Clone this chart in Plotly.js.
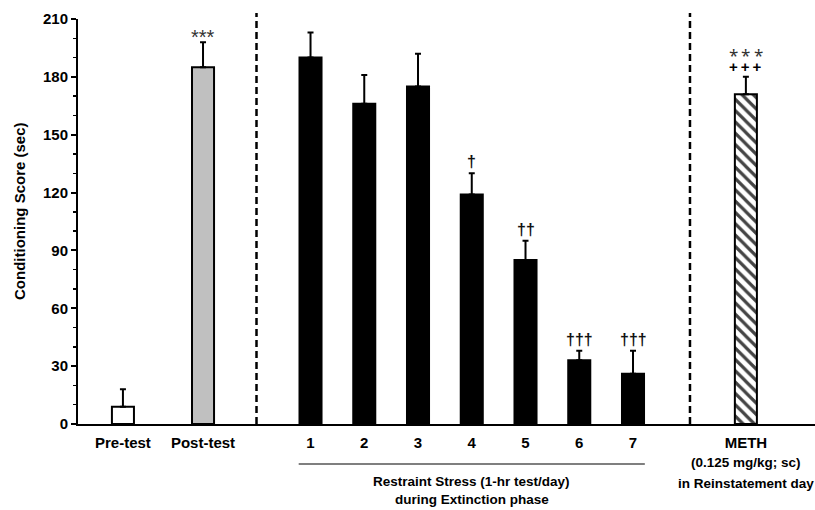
<!DOCTYPE html>
<html>
<head>
<meta charset="utf-8">
<script src="https://cdn.plot.ly/plotly-3.0.1.min.js"></script>
<style>html,body{margin:0;padding:0;background:#fff;}#chart{width:815px;height:510px;}</style>
</head>
<body>
<div id="chart"></div>
<script>
// ---- data ----
const categories = ['Pre-test', 'Post-test', '1', '2', '3', '4', '5', '6', '7', 'METH'];
const means = [9, 185, 190, 166, 175, 119, 85, 33, 26, 171];
const semUp = [9, 13, 13, 15, 17, 11, 10, 5, 12, 9];
const marksTop = ['', '***', '', '', '', '\u2020', '\u2020\u2020', '\u2020\u2020\u2020', '\u2020\u2020\u2020', '\u204E\u2009\u204E\u2009\u204E'];
const marksSecond = ['', '', '', '', '', '', '', '', '', '+\u2009+\u2009+'];
const yTicks = [0, 30, 60, 90, 120, 150, 180, 210];

// ---- layout helpers (positions / styles) ----
const xPos = [-3.49, -2.0, 0, 1, 2, 3, 4, 5, 6, 8.1];
const fills = ['#ffffff', '#c0c0c0', '#000000', '#000000', '#000000', '#000000', '#000000', '#000000', '#000000', '#ffffff'];
const patterns = ['', '', '', '', '', '', '', '', '', '\\'];
const FONT = 'Liberation Sans, Arial, sans-serif';

const trace = {
  type: 'bar',
  x: xPos,
  y: means,
  width: 0.41,
  marker: {
    color: fills,
    line: {color: '#000', width: 2},
    pattern: {shape: patterns, fgcolor: '#000', bgcolor: '#fff', fgopacity: 1, size: 8, solidity: 0.4, fillmode: 'overlay'}
  },
  error_y: {type: 'data', symmetric: false, array: semUp, arrayminus: semUp.map(() => 0), color: '#000', thickness: 2, width: 3},
  hoverinfo: 'none'
};

const annotations = [];
categories.forEach((c, i) => {
  const top = means[i] + semUp[i];
  if (marksSecond[i]) {
    annotations.push({x: xPos[i], y: top, xref: 'x', yref: 'y', text: marksSecond[i], showarrow: false,
      yanchor: 'bottom', yshift: 0, font: {family: FONT, size: 15, color: '#000', weight: 'bold'}});
    annotations.push({x: xPos[i], y: top, xref: 'x', yref: 'y', text: marksTop[i], showarrow: false,
      yanchor: 'bottom', yshift: 17.5, font: {family: FONT, size: 17, color: '#333'}});
  } else if (marksTop[i]) {
    const isStar = marksTop[i].indexOf('*') >= 0;
    annotations.push({x: xPos[i], y: top, xref: 'x', yref: 'y', text: marksTop[i], showarrow: false,
      yanchor: 'bottom', yshift: isStar ? -8 : 1,
      font: {family: FONT, size: isStar ? 20 : 16, color: isStar ? '#333' : '#111', weight: isStar ? 'normal' : 'bold'}});
  }
});

// group labels
annotations.push({xref: 'x', yref: 'paper', x: 3, y: -0.141, text: 'Restraint Stress (1-hr test/day)', showarrow: false,
  yanchor: 'middle', font: {family: FONT, size: 13.5, color: '#000', weight: 'bold'}});
annotations.push({xref: 'x', yref: 'paper', x: 3, y: -0.187, text: 'during Extinction phase', showarrow: false,
  yanchor: 'middle', font: {family: FONT, size: 13.5, color: '#000', weight: 'bold'}});
annotations.push({xref: 'x', yref: 'paper', x: 8.1, y: -0.096, text: '(0.125 mg/kg; sc)', showarrow: false,
  yanchor: 'middle', font: {family: FONT, size: 13.5, color: '#000', weight: 'bold'}});
annotations.push({xref: 'x', yref: 'paper', x: 8.1, y: -0.148, text: 'in Reinstatement day', showarrow: false,
  yanchor: 'middle', font: {family: FONT, size: 13.5, color: '#000', weight: 'bold'}});
// y title
annotations.push({xref: 'paper', yref: 'paper', x: -58 / 737, y: 0.526, text: 'Conditioning Score (sec)', showarrow: false,
  textangle: -90, xanchor: 'center', yanchor: 'middle', font: {family: FONT, size: 15, color: '#000', weight: 'bold'}});

const shapes = [
  {type: 'line', xref: 'x', yref: 'paper', x0: -1.005, x1: -1.005, y0: 0, y1: 1.015, line: {color: '#000', width: 2.5, dash: '7px,4px'}},
  {type: 'line', xref: 'x', yref: 'paper', x0: 7.06, x1: 7.06, y0: 0, y1: 1.015, line: {color: '#000', width: 2.5, dash: '7px,4px'}},
  {type: 'line', xref: 'x', yref: 'paper', x0: -0.22, x1: 6.22, y0: -0.099, y1: -0.099, line: {color: '#555', width: 1.5}}
];

const layout = {
  width: 815, height: 510,
  margin: {l: 78, r: 0, t: 19, b: 86},
  paper_bgcolor: '#fff', plot_bgcolor: '#fff',
  showlegend: false,
  font: {family: FONT, color: '#000'},
  xaxis: {
    range: [-4.326, 9.386], showgrid: false, zeroline: false,
    showline: true, linecolor: '#000', linewidth: 2,
    tickmode: 'array', tickvals: xPos, ticktext: categories, ticks: '',
    ticklabelstandoff: 4,
    tickfont: {family: FONT, size: 15, color: '#000', weight: 'bold'},
    fixedrange: true
  },
  yaxis: {
    range: [0, 210], showgrid: false, zeroline: false,
    showline: true, linecolor: '#000', linewidth: 2,
    tickmode: 'array', tickvals: yTicks, ticks: 'outside', ticklen: 5, tickwidth: 2, tickcolor: '#000',
    minor: {dtick: 10, ticks: 'outside', ticklen: 3, tickwidth: 1.5, tickcolor: '#000'},
    tickfont: {family: FONT, size: 15, color: '#000', weight: 'bold'},
    fixedrange: true
  },
  shapes: shapes,
  annotations: annotations
};

Plotly.newPlot('chart', [trace], layout, {displayModeBar: false, staticPlot: true});
</script>
</body>
</html>
